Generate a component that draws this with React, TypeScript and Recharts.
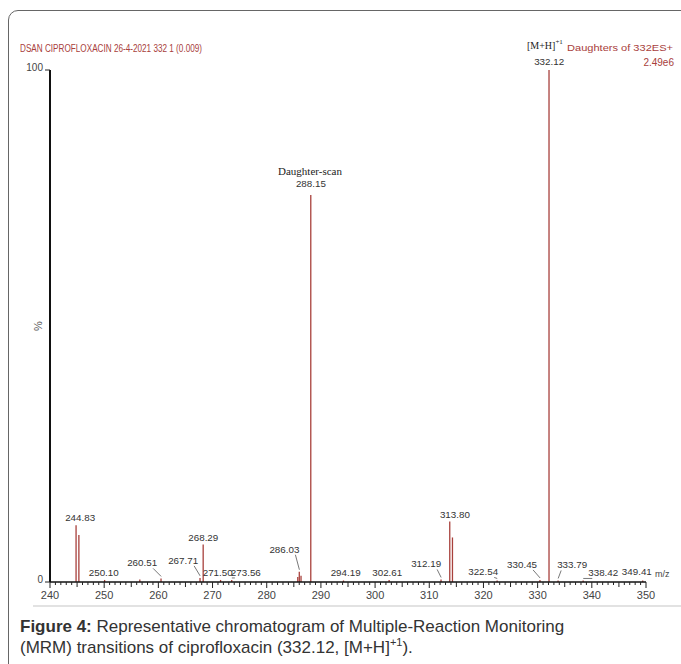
import { ComposedChart, Bar, Scatter, XAxis, YAxis } from "recharts";

// stick spectrum, m/z vs relative intensity (%)
const MZ = [
  244.83, 245.35, 250.1, 256.6, 260.51, 267.71, 268.29, 271.5, 273.56, 285.75, 286.03, 286.35,
  288.15, 294.19, 302.61, 312.19, 313.8, 314.3, 322.54, 330.45, 332.12, 333.79, 338.42, 349.41,
];
const INTENSITY = [
  11.1, 9.2, 0.4, 0.5, 0.7, 0.8, 7.3, 0.4, 0.4, 1.0, 2.0, 1.2,
  75.6, 0.3, 0.4, 0.5, 11.8, 8.7, 0.3, 0.4, 100, 0.3, 0.3, 0.3,
];
const LABELED = [
  "244.83", "250.10", "260.51", "267.71", "268.29", "271.50", "273.56", "286.03", "288.15",
  "294.19", "302.61", "312.19", "313.80", "322.54", "330.45", "332.12", "333.79", "338.42", "349.41",
];
const MAJOR_TICKS = [240, 250, 260, 270, 280, 290, 300, 310, 320, 330, 340, 350];
const MINOR_TICKS = Array.from({ length: 111 }, (_, i) => 240 + i);

// label placement relative to the peak top (px)
const LABEL_LAYOUT: Record<string, { dx: number; dy: number; leader?: boolean }> = {
  "244.83": { dx: 4, dy: -4 },
  "250.10": { dx: -1, dy: -4 },
  "260.51": { dx: -19, dy: -12, leader: true },
  "267.71": { dx: -17, dy: -14, leader: true },
  "268.29": { dx: 0, dy: -4 },
  "271.50": { dx: -3, dy: -4 },
  "273.56": { dx: 14, dy: -4, leader: true },
  "286.03": { dx: -15, dy: -19, leader: true },
  "288.15": { dx: 0, dy: -8 },
  "294.19": { dx: 2, dy: -4 },
  "302.61": { dx: -2, dy: -4 },
  "312.19": { dx: -15, dy: -12, leader: true },
  "313.80": { dx: 5, dy: -4 },
  "322.54": { dx: -14, dy: -5, leader: true },
  "330.45": { dx: -18, dy: -12, leader: true },
  "332.12": { dx: 0, dy: -5 },
  "333.79": { dx: 14, dy: -12, leader: true },
  "338.42": { dx: 20, dy: -4, leader: true },
  "349.41": { dx: -6, dy: -5 },
};

const PEAKS = MZ.map((mz, i) => ({ mz, intensity: INTENSITY[i] }));
const LABEL_POINTS = PEAKS.filter((p) => LABELED.includes(p.mz.toFixed(2)));

const RED = "#a8403c";
const FONT = "'Liberation Sans', Arial, sans-serif";

function MzTick({ x, y, payload }: any) {
  const v = payload.value;
  const major = MAJOR_TICKS.includes(v);
  const len = major ? 6 : v % 5 === 0 ? 5 : 3;
  return (
    <g>
      <line x1={x} x2={x} y1={y} y2={y + len} stroke="#222" strokeWidth={1} />
      {major && (
        <text x={x} y={y + 17} textAnchor="middle" fontSize={11} fill="#444" fontFamily={FONT}>
          {v}
        </text>
      )}
    </g>
  );
}

function PeakLabel({ cx, cy, payload }: any) {
  const key = payload.mz.toFixed(2);
  const lay = LABEL_LAYOUT[key] ?? { dx: 0, dy: -4 };
  const tx = cx + lay.dx;
  const ty = cy + lay.dy;
  const half = 14;
  const ex = lay.dx < 0 ? tx + half - 3 : tx - half + 3;
  return (
    <g>
      <text x={tx} y={ty} textAnchor="middle" fontSize={9.8} fill="#333" fontFamily={FONT}>
        {key}
      </text>
      {lay.leader && (
        <line x1={ex} y1={ty + 2} x2={cx} y2={cy - 2} stroke="#555" strokeWidth={0.8} />
      )}
    </g>
  );
}

export default function App() {
  return (
    <div style={{ position: "absolute", left: 0, top: 0, width: 681, height: 664, overflow: "hidden", background: "#fff" }}>
      <div style={{ position: "absolute", left: 8, top: 10, width: 720, height: 720, border: "1.5px solid #666", borderRadius: 10 }} />

      <div style={{ position: "absolute", left: 0, top: 0 }}>
        <ComposedChart width={681} height={620} data={PEAKS} margin={{ top: 70, right: 35, bottom: 0, left: 0 }}>
          <XAxis
            dataKey="mz"
            type="number"
            domain={[240, 350]}
            ticks={MINOR_TICKS}
            interval={0}
            tick={<MzTick />}
            tickLine={false}
            tickSize={0}
            tickMargin={0}
            height={38}
            axisLine={{ stroke: "#111", strokeWidth: 1.5 }}
          />
          <YAxis
            type="number"
            domain={[0, 100]}
            ticks={[0, 100]}
            width={50}
            tickSize={5}
            tickLine={{ stroke: "#222" }}
            axisLine={{ stroke: "#111", strokeWidth: 2 }}
            tick={{ fontSize: 10, fill: "#444", fontFamily: FONT, dy: -3 }}
          />
          <Bar dataKey="intensity" barSize={1.3} fill={RED} isAnimationActive={false} />
          <Scatter data={LABEL_POINTS} dataKey="intensity" shape={<PeakLabel />} isAnimationActive={false} />
        </ComposedChart>
      </div>

      <svg width={681} height={664} style={{ position: "absolute", left: 0, top: 0, pointerEvents: "none" }}>
        <text x={20} y={52} fontSize={10} fill={RED} fontFamily={FONT} textLength={182} lengthAdjust="spacingAndGlyphs">
          DSAN CIPROFLOXACIN 26-4-2021 332 1 (0.009)
        </text>
        <text x={567} y={51} fontSize={9.5} fill={RED} fontFamily={FONT} textLength={106} lengthAdjust="spacingAndGlyphs">
          Daughters of 332ES+
        </text>
        <text x={674} y={66} fontSize={10} fill={RED} fontFamily={FONT} textAnchor="end">
          2.49e6
        </text>
        <text x={527} y={49} fontSize={10} fill="#222" fontFamily="'Liberation Serif', serif">
          [M+H]<tspan fontSize={7} dy={-5}>+1</tspan>
        </text>
        <text x={310} y={175} fontSize={11} fill="#222" textAnchor="middle" fontFamily="'Liberation Serif', serif">
          Daughter-scan
        </text>
        <text x={42} y={326} fontSize={11} fill="#555" fontFamily={FONT} transform="rotate(-90 42 326)" textAnchor="middle">
          %
        </text>
        <text x={655} y={577} fontSize={9} fill="#444" fontFamily={FONT}>
          m/z
        </text>
        <line x1={33} x2={681} y1={606} y2={606} stroke="#e2e2e2" strokeWidth={2} />
      </svg>

      <div style={{ position: "absolute", left: 20, top: 616, fontFamily: FONT, fontSize: 17, lineHeight: "21px", color: "#333", whiteSpace: "nowrap" }}>
        <div><b>Figure 4:</b> Representative chromatogram of Multiple-Reaction Monitoring</div>
        <div>(MRM) transitions of ciprofloxacin (332.12, [M+H]<sup style={{ fontSize: 11, lineHeight: 0 }}>+1</sup>).</div>
      </div>
    </div>
  );
}
